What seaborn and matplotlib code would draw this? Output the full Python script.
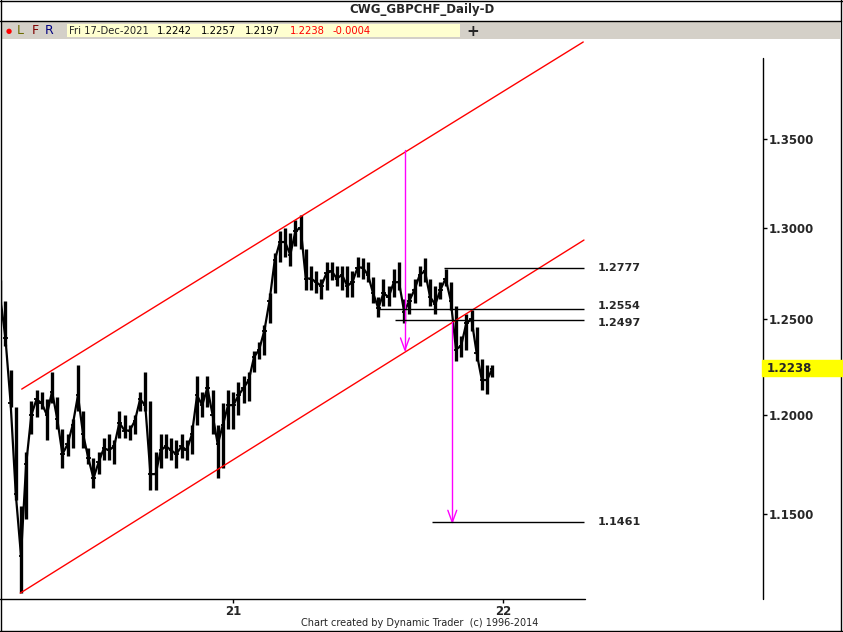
import numpy as np
import pandas as pd
import matplotlib
matplotlib.use('Agg')
import matplotlib.pyplot as plt
import matplotlib.dates as mdates
from matplotlib.lines import Line2D
from matplotlib.patches import Rectangle
import seaborn as sns

#%% data (weekly high / low / close)
weeks = pd.date_range('2020-02-21', periods=96, freq='W-FRI')

high = [1.271, 1.260, 1.223, 1.204, 1.154, 1.181, 1.207, 1.213, 1.212, 1.208,
        1.222, 1.209, 1.193, 1.190, 1.198, 1.226, 1.202, 1.183, 1.178, 1.181,
        1.188, 1.190, 1.187, 1.202, 1.200, 1.195, 1.200, 1.212, 1.222, 1.207,
        1.181, 1.190, 1.190, 1.188, 1.187, 1.190, 1.187, 1.195, 1.220, 1.212,
        1.220, 1.213, 1.195, 1.206, 1.213, 1.212, 1.217, 1.220, 1.222, 1.233,
        1.238, 1.247, 1.264, 1.286, 1.298, 1.300, 1.297, 1.304, 1.307, 1.288,
        1.279, 1.276, 1.272, 1.281, 1.281, 1.279, 1.279, 1.279, 1.276, 1.284,
        1.283, 1.281, 1.273, 1.262, 1.272, 1.268, 1.277, 1.281, 1.261, 1.264,
        1.272, 1.279, 1.283, 1.272, 1.268, 1.270, 1.277, 1.270, 1.257, 1.241,
        1.253, 1.255, 1.246, 1.229, 1.226, 1.2257]

low = [1.259, 1.236, 1.204, 1.157, 1.112, 1.148, 1.190, 1.199, 1.203, 1.187,
       1.206, 1.193, 1.173, 1.179, 1.183, 1.202, 1.183, 1.175, 1.163, 1.170,
       1.177, 1.177, 1.175, 1.188, 1.188, 1.187, 1.190, 1.202, 1.202, 1.162,
       1.162, 1.173, 1.178, 1.177, 1.173, 1.178, 1.177, 1.180, 1.195, 1.199,
       1.204, 1.190, 1.168, 1.173, 1.193, 1.193, 1.200, 1.206, 1.207, 1.222,
       1.229, 1.231, 1.248, 1.264, 1.281, 1.284, 1.279, 1.290, 1.288, 1.266,
       1.266, 1.264, 1.261, 1.266, 1.271, 1.268, 1.266, 1.262, 1.262, 1.273,
       1.272, 1.270, 1.259, 1.251, 1.257, 1.257, 1.262, 1.266, 1.248, 1.253,
       1.259, 1.268, 1.270, 1.257, 1.253, 1.261, 1.268, 1.255, 1.228, 1.230,
       1.234, 1.244, 1.228, 1.213, 1.211, 1.2197]

close = [1.262, 1.240, 1.206, 1.160, 1.130, 1.175, 1.200, 1.208, 1.206, 1.200,
         1.212, 1.198, 1.180, 1.185, 1.195, 1.210, 1.190, 1.178, 1.168, 1.176,
         1.183, 1.182, 1.184, 1.196, 1.192, 1.192, 1.197, 1.208, 1.205, 1.170,
         1.170, 1.182, 1.184, 1.182, 1.180, 1.184, 1.182, 1.190, 1.210, 1.205,
         1.214, 1.200, 1.185, 1.195, 1.205, 1.205, 1.210, 1.214, 1.218, 1.230,
         1.234, 1.244, 1.260, 1.282, 1.292, 1.292, 1.285, 1.298, 1.300, 1.272,
         1.272, 1.270, 1.268, 1.275, 1.276, 1.272, 1.274, 1.268, 1.270, 1.278,
         1.278, 1.274, 1.264, 1.256, 1.264, 1.262, 1.270, 1.270, 1.254, 1.260,
         1.266, 1.274, 1.276, 1.262, 1.258, 1.266, 1.272, 1.260, 1.234, 1.236,
         1.248, 1.250, 1.232, 1.218, 1.218, 1.2238]

levels = [1.2777, 1.2554, 1.2497, 1.1461]
level_start = ['2021-10-13', '2021-07-16', '2021-08-08', '2021-09-27']
level_end = '2022-04-20'

upper_channel = (['2020-03-21', '2022-04-19'], [1.2133, 1.4073])
lower_channel = (['2020-03-19', '2022-04-20'], [1.1120, 1.2931])
projections = [('2021-08-21', 1.3438, 1.2337), ('2021-10-24', 1.2487, 1.1461)]

yticks = [1.15, 1.20, 1.25, 1.30, 1.35]
last_price = 1.2238

#%% figure
W, H = 843, 632
sns.set_style('white')
plt.rcParams['font.family'] = ['DejaVu Sans']

fig = plt.figure(figsize=(W / 100, H / 100), dpi=100)
ax = fig.add_axes([1 / W, 1 - 599 / H, 762 / W, 559 / H])

def fx(x):
    return x / W

def fy(y):
    return 1 - y / H

# price bars
t = mdates.date2num(weeks)
ax.vlines(t, low, high, color='black', lw=2.4)
ax.hlines(close, t, t + 3, color='black', lw=1.3)
ax.hlines(close, t - 3, t, color='black', lw=1.3)
sns.lineplot(x=t, y=close, ax=ax, color='black', lw=1.6)

# channel
for xs, ys in [upper_channel, lower_channel]:
    ax.plot(mdates.datestr2num(xs), ys, color='red', lw=1, clip_on=False)

# projections with magenta arrows
for d, top, bottom in projections:
    xd = mdates.datestr2num(d)
    ax.plot([xd, xd], [top, bottom], color='#ff00ff', lw=1)
    ax.plot([xd - 6, xd, xd + 6], [bottom * 1.0052, bottom, bottom * 1.0052],
            color='#ff00ff', lw=1)

# level lines and labels
xe = mdates.datestr2num(level_end)
nudge = [1.0, 1.0012, 0.9988, 1.0]
for lv, st, k in zip(levels, level_start, nudge):
    ax.hlines(lv, mdates.datestr2num(st), xe, color='black', lw=1)
    ax.text(mdates.datestr2num('2022-05-09'), lv * k, f'{lv:.4f}', fontsize=8,
            fontweight='bold', va='center', ha='left')

ax.set_yscale('log')
ax.set_xlim(mdates.datestr2num('2020-02-22'), mdates.datestr2num('2022-12-18'))
ax.set_ylim(1.1092, 1.4085)
ax.yaxis.set_minor_locator(matplotlib.ticker.NullLocator())
ax.yaxis.tick_right()
ax.set_yticks(yticks)
ax.set_yticklabels([f'{v:.4f}' for v in yticks], fontsize=8.5, fontweight='bold')
ax.tick_params(axis='y', length=3, width=1, pad=1, color='black', right=True)
ax.set_xticks(mdates.datestr2num(['2021-01-01', '2022-01-01']))
ax.set_xticklabels(['21', '22'], fontsize=8.5, fontweight='bold')
ax.tick_params(axis='x', length=3, width=1, pad=1, color='black', bottom=True)
for s in ax.spines.values():
    s.set_visible(False)
ax.set_xlabel('')
ax.set_ylabel('')
ax.set_facecolor('none')

# axis lines
fig.add_artist(Line2D([fx(0), fx(585)], [fy(599), fy(599)], color='black', lw=1))
fig.add_artist(Line2D([fx(763), fx(763)], [fy(58), fy(599)], color='black', lw=1))

# last price box
fig.add_artist(Rectangle((fx(762), fy(376)), 80 / W, 16 / H, color='yellow', zorder=3))
fig.text(fx(767), fy(368), f'{last_price:.4f}', fontsize=8.5, fontweight='bold',
         va='center', ha='left', zorder=4)

# title bar, toolbar, frame
fig.text(0.5, fy(10), 'CWG_GBPCHF_Daily-D', fontsize=8.5, fontweight='bold',
         ha='center', va='center')
fig.add_artist(Rectangle((fx(1), fy(39)), 839 / W, 17 / H, facecolor='#d4d0c8',
                         edgecolor='none'))
fig.add_artist(Line2D([0, fx(841)], [fy(21), fy(21)], color='black', lw=1))
fig.add_artist(Rectangle((fx(67), fy(37)), 393 / W, 13 / H, facecolor='#ffffd0',
                         edgecolor='none'))
fig.text(fx(9), fy(31), '\u25cf', color='red', fontsize=5, ha='center', va='center')
fig.text(fx(20), fy(31), 'L', color='#6b6b00', fontsize=9, ha='center', va='center')
fig.text(fx(35), fy(31), 'F', color='#800000', fontsize=9, ha='center', va='center')
fig.text(fx(49), fy(31), 'R', color='#000080', fontsize=9, ha='center', va='center')
fig.text(fx(69), fy(31), 'Fri 17-Dec-2021', fontsize=7.2, va='center')
for xp, s, c in [(157, '1.2242', 'black'), (201, '1.2257', 'black'), (245, '1.2197', 'black'),
                 (290, '1.2238', 'red'), (333, '-0.0004', 'red')]:
    fig.text(fx(xp), fy(31), s, color=c, fontsize=7.2, va='center')
fig.text(fx(473), fy(31), '+', fontsize=11, fontweight='bold', ha='center', va='center')

fig.text(fx(420), fy(623), 'Chart created by Dynamic Trader  (c) 1996-2014',
         fontsize=7, ha='center', va='center')
fig.add_artist(Line2D([0, fx(843)], [fy(631), fy(631)], color='black', lw=1))
fig.add_artist(Line2D([fx(0.5), fx(0.5)], [fy(0), fy(632)], color='black', lw=1))
fig.add_artist(Line2D([fx(841), fx(841)], [fy(0), fy(632)], color='black', lw=1))
fig.add_artist(Line2D([0, 1], [fy(0.5), fy(0.5)], color='black', lw=1))

plt.savefig('out.png', format='png', dpi=100)
